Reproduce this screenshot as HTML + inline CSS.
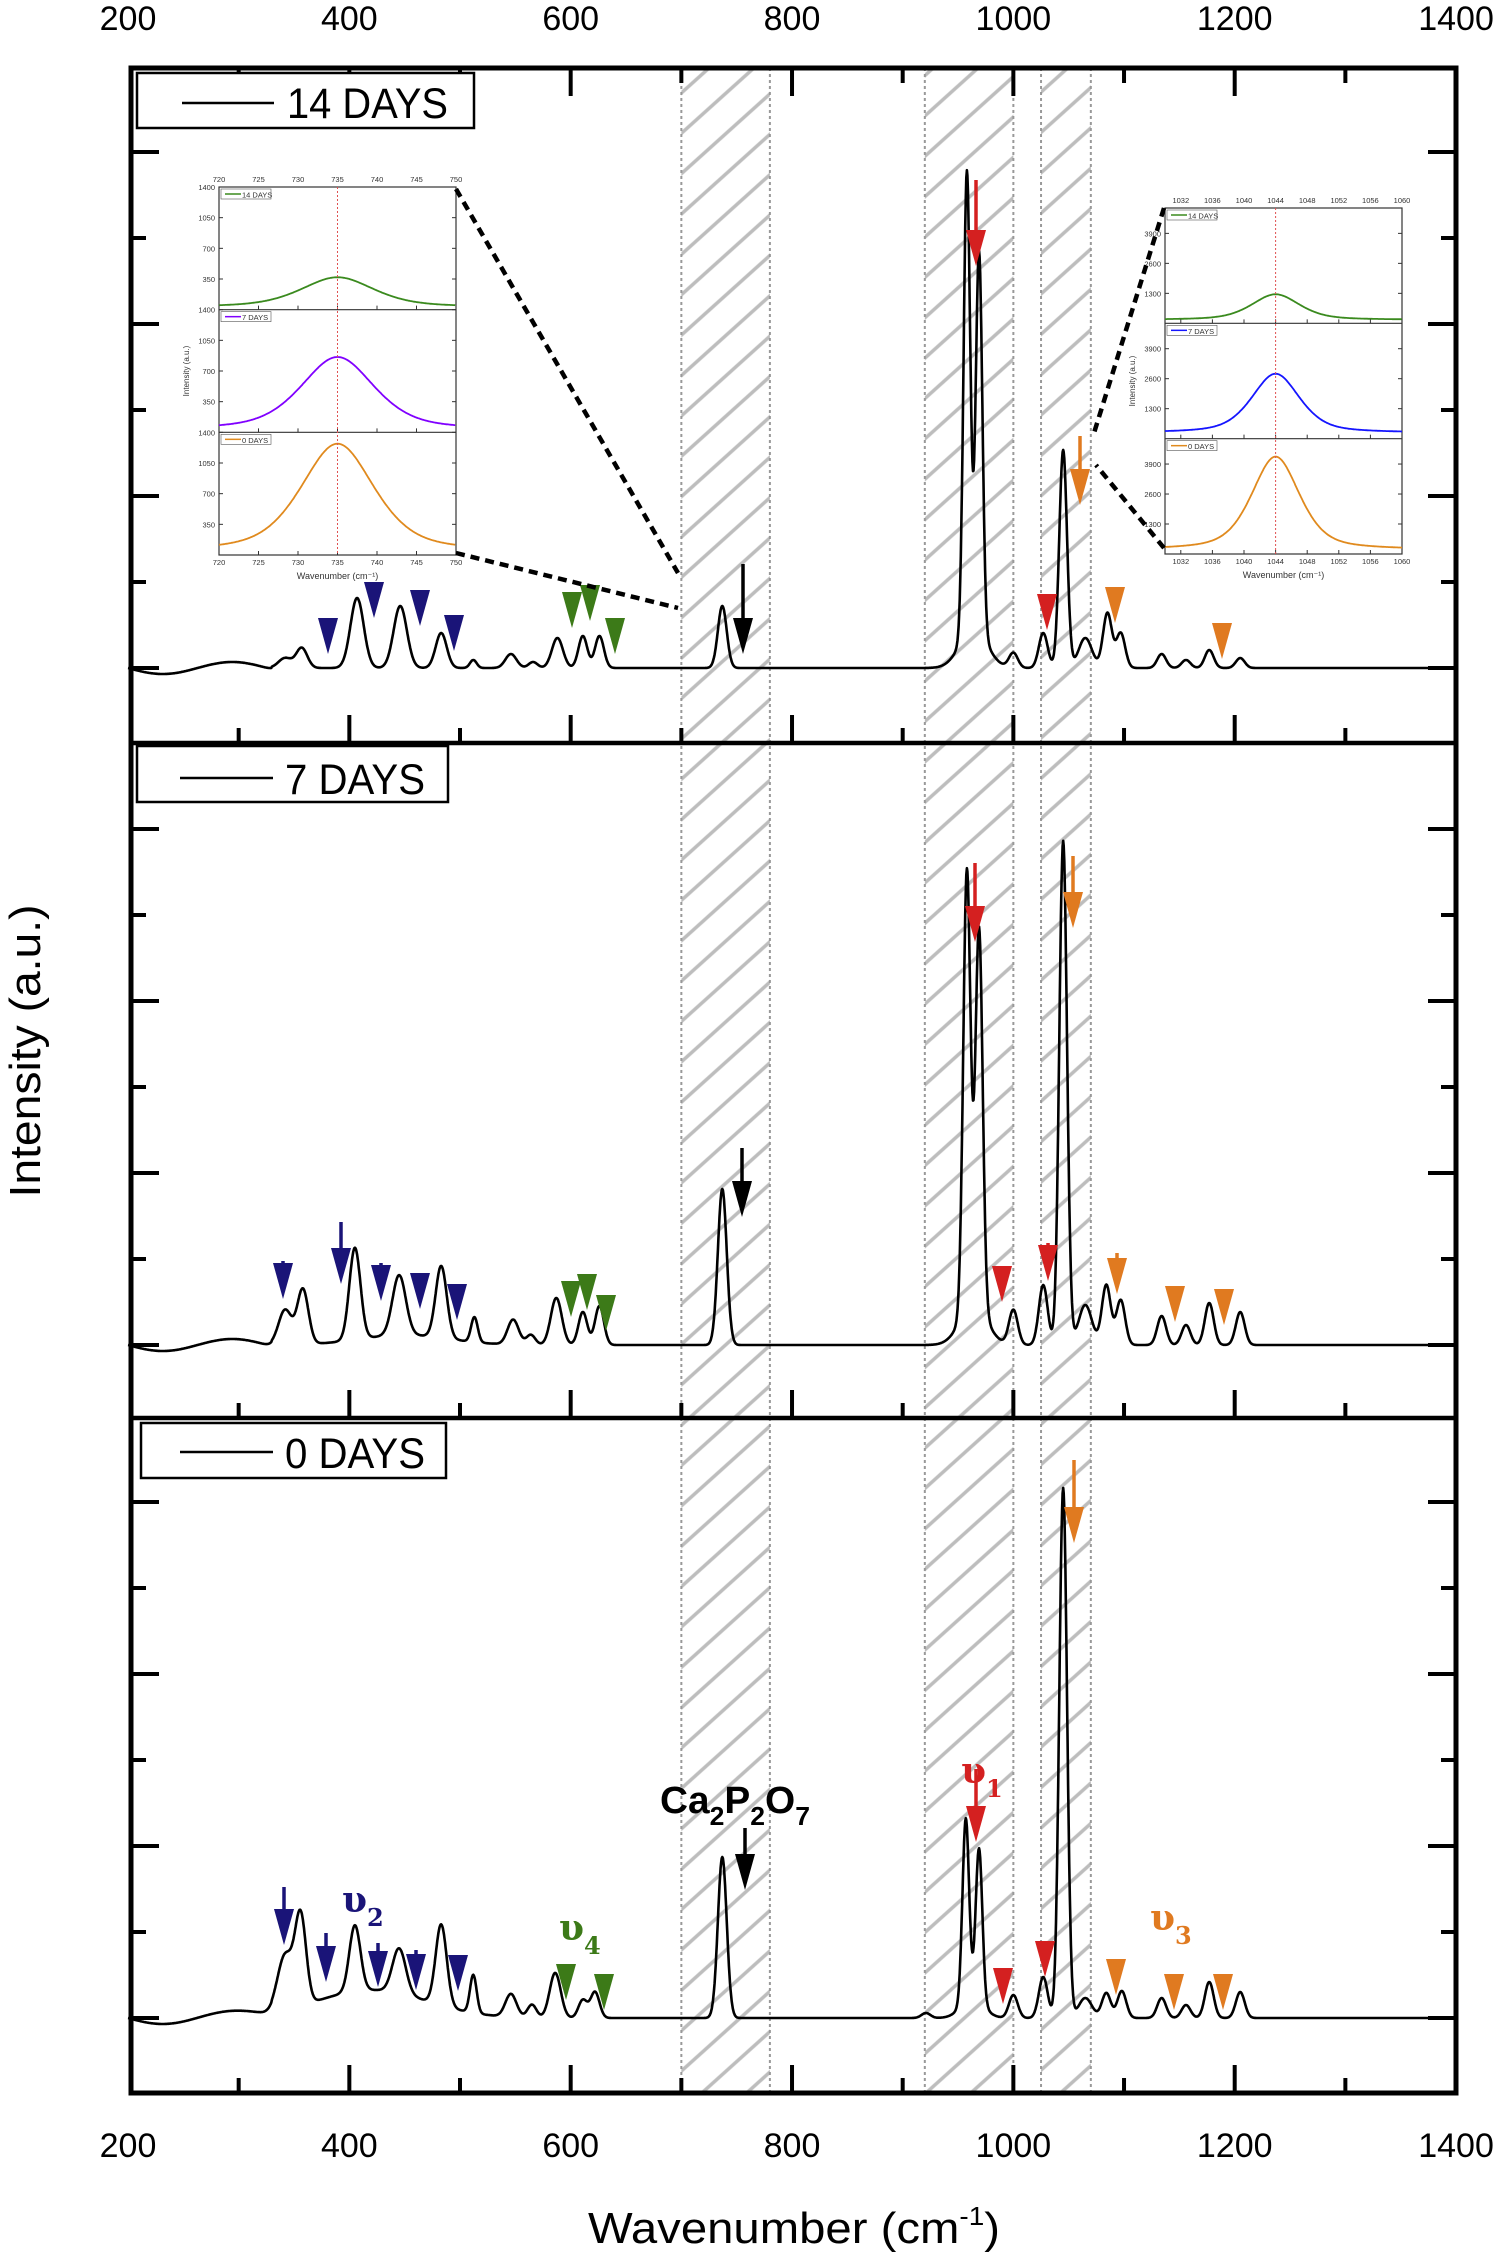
<!DOCTYPE html>
<html><head><meta charset="utf-8"><style>
html,body{margin:0;padding:0;background:#fff;}
svg{display:block;font-family:"Liberation Sans",sans-serif;}
</style></head><body>
<svg id="chart" xmlns="http://www.w3.org/2000/svg" width="1500" height="2254" viewBox="0 0 1500 2254">
<defs>
<pattern id="hatch" patternUnits="userSpaceOnUse" width="30" height="30" patternTransform="rotate(48)">
<line x1="15" y1="0" x2="15" y2="30" stroke="#bdbdbd" stroke-width="3.5"/>
</pattern>
</defs>
<g id="hatches"></g>
<g id="spectra"></g>
<g id="axes"></g>
<g id="arrows"></g>
<g id="insets"></g>
<g>
<rect x="137" y="73" width="337" height="55" fill="#fff" stroke="#000" stroke-width="2.5"/>
<line x1="182" y1="103" x2="274" y2="103" stroke="#000" stroke-width="2.5"/>
<text x="287" y="118" font-size="43" textLength="161" lengthAdjust="spacingAndGlyphs">14 DAYS</text>
</g>
<g>
<rect x="137" y="746" width="311" height="56" fill="#fff" stroke="#000" stroke-width="2.5"/>
<line x1="180" y1="778" x2="273" y2="778" stroke="#000" stroke-width="2.5"/>
<text x="285" y="794" font-size="43" textLength="140" lengthAdjust="spacingAndGlyphs">7 DAYS</text>
</g>
<g>
<rect x="141" y="1423" width="305" height="55" fill="#fff" stroke="#000" stroke-width="2.5"/>
<line x1="180" y1="1452" x2="273" y2="1452" stroke="#000" stroke-width="2.5"/>
<text x="285" y="1468" font-size="43" textLength="140" lengthAdjust="spacingAndGlyphs">0 DAYS</text>
</g>
<g font-weight="bold">
<text x="342" y="1912" font-size="36" fill="#1a1478" font-family="'DejaVu Serif',serif">υ<tspan font-size="24" dy="14">2</tspan></text>
<text x="559" y="1940" font-size="36" fill="#3c7a18" font-family="'DejaVu Serif',serif">υ<tspan font-size="24" dy="14">4</tspan></text>
<text x="961" y="1783" font-size="36" fill="#d42020" font-family="'DejaVu Serif',serif">υ<tspan font-size="24" dy="14">1</tspan></text>
<text x="1150" y="1930" font-size="36" fill="#e07a20" font-family="'DejaVu Serif',serif">υ<tspan font-size="24" dy="14">3</tspan></text>
<text x="660" y="1813" font-size="38" fill="#000" textLength="150" lengthAdjust="spacingAndGlyphs">Ca<tspan font-size="26" dy="12">2</tspan><tspan dy="-12">P</tspan><tspan font-size="26" dy="12">2</tspan><tspan dy="-12">O</tspan><tspan font-size="26" dy="12">7</tspan></text>
</g>
<text x="0" y="0" font-size="44" text-anchor="middle" transform="translate(40,1051) rotate(-90)" textLength="293" lengthAdjust="spacingAndGlyphs">Intensity (a.u.)</text>
<text x="588" y="2243" font-size="44" textLength="412" lengthAdjust="spacingAndGlyphs">Wavenumber (cm<tspan font-size="26" dy="-18">-1</tspan><tspan dy="18">)</tspan></text>
</svg>
<script>
// ---- data ----
const wnTicks = [200, 400, 600, 800, 1000, 1200, 1400];
const hatchStart = [700, 920, 1025];
const hatchEnd = [780, 1000, 1070];
// peak centers / heights (px above baseline) / widths (sigma, cm-1)
const p14c = [342,357,407,446,483,512,546,566,588,611,626,737,958,969,964,1000,1027,1045,1065,1085,1097,1134,1156,1177,1205];
const p14h = [10,20,70,62,35,8,14,6,30,32,32,62,462,380,40,15,35,218,30,55,35,14,8,18,10];
const p7c  = [342,358,405,445,483,513,548,564,587,611,626,737,958,969,964,1000,1027,1045,1065,1084,1097,1134,1156,1177,1205,450];
const p7h  = [35,55,92,60,72,25,25,10,47,33,39,156,440,380,40,35,60,504,40,60,45,29,20,42,33,10];
const p0c  = [342,356,405,445,483,512,546,565,586,611,622,737,921,957,969,963,1000,1027,1045,1065,1084,1098,1134,1156,1177,1205,420];
const p0h  = [55,88,66,45,81,38,23,13,45,18,26,161,5,183,153,20,23,41,530,20,25,27,20,13,36,26,28];
const p14s = [6,5,6,6,5,3,5,4,5,4,4,4,3,3,12,4,4,3.5,6,4,4,4,4,4,4];
const p7s  = [6,5,5,6,5,3,5,4,5,4,4,4,3.3,3.3,12,4,4,3.5,6,4,4,4,4,4,4,40];
const p0s  = [7,5,5,6,5,3,5,4,5,4,4,4,4,3,3,10,4,4,3.5,6,4,4,4,4,4,4,50];
// inset data
const inset1Amp = [340, 830, 1230];
const inset1Base = [30, 30, 40];
const inset2Amp = [1110, 2565, 4040];
const inset2Base = [150, 250, 180];

const NS="http://www.w3.org/2000/svg";
function mk(tag, attrs, parent){const e=document.createElementNS(NS,tag);for(const k in attrs)e.setAttribute(k,attrs[k]);parent.appendChild(e);return e;}
const X0=128, XS=1.1067;
function xs(w){return X0+(w-200)*XS;}
const panels=[{top:68,bot:743,base:668},{top:743,bot:1418,base:1345},{top:1418,bot:2093,base:2018}];
const series=[[p14c,p14h,p14s],[p7c,p7h,p7s],[p0c,p0h,p0s]];
const names=['spectrum-14-days','spectrum-7-days','spectrum-0-days'];

// hatches
const gh=document.getElementById('hatches');
for(let i=0;i<hatchStart.length;i++){
  const a=xs(hatchStart[i]), b=xs(hatchEnd[i]);
  const r=mk('rect',{x:a,y:68,width:b-a,height:2025,fill:'url(#hatch)'},gh);
  
  
  [a,b].forEach(xx=>{const l=mk('line',{x1:xx,y1:68,x2:xx,y2:2093,stroke:'#999','stroke-width':2,'stroke-dasharray':'3,3'},gh);
    
    });
}

// spectra
const gs=document.getElementById('spectra');
series.forEach((s,pi)=>{
  const [c,h,sg]=s; const base=panels[pi].base;
  let d='';
  for(let w=200; w<=1400; w+=0.5){
    let v=0;
    for(let k=0;k<c.length;k++){const z=(w-c[k])/sg[k]; if(Math.abs(z)<8) v+=h[k]*Math.exp(-0.5*z*z);}
    if(w<330) v-= 6*Math.sin((w-200)/20);
    d+=(d?'L':'M')+xs(w).toFixed(1)+','+(base-v).toFixed(1);
  }
  const p=mk('path',{d:d,fill:'none',stroke:'#000','stroke-width':2.6,'stroke-linejoin':'round'},gs);
  
  
});

// axes
const ga=document.getElementById('axes');
const fr=mk('rect',{x:131,y:68,width:1325,height:2025,fill:'none',stroke:'#000','stroke-width':5},ga);


[743,1418].forEach(yy=>{const l=mk('line',{x1:131,y1:yy,x2:1456,y2:yy,stroke:'#000','stroke-width':4.5},ga);
  
  });
for(let w=300;w<=1300;w+=100){
  const len=(w%200===0)?28:15, xx=xs(w);
  mk('line',{x1:xx,y1:68,x2:xx,y2:68+len,stroke:'#000','stroke-width':4},ga);
  [743,1418,2093].forEach(yy=>mk('line',{x1:xx,y1:yy,x2:xx,y2:yy-len,stroke:'#000','stroke-width':4},ga));
}
panels.forEach(p=>{
  for(let k=0;k<7;k++){
    const yy=p.base-86*k, len=(k%2===0)?28:15;
    mk('line',{x1:131,y1:yy,x2:131+len,y2:yy,stroke:'#000','stroke-width':4},ga);
    mk('line',{x1:1456,y1:yy,x2:1456-len,y2:yy,stroke:'#000','stroke-width':4},ga);
  }
});
wnTicks.forEach(w=>{
  const t1=mk('text',{x:xs(w),y:30,'font-size':34,'text-anchor':'middle'},ga); t1.textContent=w;
  
  
  const t2=mk('text',{x:xs(w),y:2157,'font-size':34,'text-anchor':'middle'},ga); t2.textContent=w;
  
  
});

// arrows: [x, tipY, stemTop(or 0), color]
const NV='#1a1478', GR='#3c7a18', RD='#d42020', OR='#e07a20', BK='#000';
const arrowList=[
 [328,654,618,NV],[374,618,0,NV],[420,626,0,NV],[454,651,640,NV],
 [572,628,0,GR],[590,621,0,GR],[615,654,0,GR],
 [743,654,564,BK],[976,266,180,RD],[1047,630,0,RD],
 [1080,505,436,OR],[1115,623,587,OR],[1222,659,0,OR],
 [283,1299,1261,NV],[341,1284,1222,NV],[381,1301,1263,NV],[420,1309,0,NV],[457,1320,1310,NV],
 [571,1317,0,GR],[587,1310,0,GR],[606,1331,0,GR],
 [742,1217,1148,BK],[975,942,863,RD],[1002,1302,0,RD],[1048,1281,1243,RD],
 [1073,928,856,OR],[1117,1294,1253,OR],[1175,1322,0,OR],[1224,1325,0,OR],
 [284,1945,1887,NV],[326,1982,1933,NV],[378,1987,1943,NV],[416,1990,1950,NV],[458,1991,1980,NV],
 [566,2000,0,GR],[604,2010,0,GR],
 [745,1890,1828,BK],[976,1842,1769,RD],[1003,2004,0,RD],[1045,1977,1965,RD],
 [1074,1543,1460,OR],[1116,1995,0,OR],[1174,2010,0,OR],[1223,2010,0,OR]
];
const gar=document.getElementById('arrows');
arrowList.forEach(a=>{
  const [x,tip,st,col]=a; const hh=36, hw=10;
  const g=mk('g',{},gar);
  
  
  if(st) mk('line',{x1:x,y1:st,x2:x,y2:tip-hh+2,stroke:col,'stroke-width':3.5},g);
  mk('polygon',{points:`${x-hw},${tip-hh} ${x+hw},${tip-hh} ${x},${tip}`,fill:col},g);
});

// insets
const gi=document.getElementById('insets');
function inset(x0,y0,x1,y1,wmin,wmax,center,ymax,amps,bases,hw,cols,xt,yt,name){
  const g=mk('g',{},gi);
  
  
  mk('rect',{x:x0,y:y0,width:x1-x0,height:y1-y0,fill:'#fff',stroke:'#333','stroke-width':1.2},g);
  const ph=(y1-y0)/3, sx=w=>x0+(w-wmin)/(wmax-wmin)*(x1-x0);
  const lbl=['14 DAYS','7 DAYS','0 DAYS'];
  for(let i=0;i<3;i++){
    const t=y0+i*ph, b=t+ph;
    if(i>0) mk('line',{x1:x0,y1:t,x2:x1,y2:t,stroke:'#333','stroke-width':1.2},g);
    let d='';
    for(let w=wmin;w<=wmax;w+=0.1){
      const z=(w-center)/hw; const v=bases[i]+amps[i]*(0.5/(1+z*z)+0.5*Math.exp(-0.693*z*z));
      d+=(d?'L':'M')+sx(w).toFixed(1)+','+(b-v/ymax*ph).toFixed(1);
    }
    const p=mk('path',{d:d,fill:'none',stroke:cols[i],'stroke-width':1.8},g);
    
    
    mk('rect',{x:x0+2,y:t+2,width:50,height:10,fill:'#fff',stroke:'#555','stroke-width':0.6},g);
    mk('line',{x1:x0+6,y1:t+7,x2:x0+22,y2:t+7,stroke:cols[i],'stroke-width':1.5},g);
    const tt=mk('text',{x:x0+23,y:t+10.5,'font-size':7.5,fill:'#333'},g); tt.textContent=lbl[i];
    yt.forEach(v=>{const yy=b-v/ymax*ph; mk('line',{x1:x0,y1:yy,x2:x0+4,y2:yy,stroke:'#333','stroke-width':1},g);
      mk('line',{x1:x1,y1:yy,x2:x1-4,y2:yy,stroke:'#333','stroke-width':1},g);
      const lt=mk('text',{x:x0-4,y:yy+3,'font-size':7.5,'text-anchor':'end',fill:'#333'},g); lt.textContent=v;});
    xt.forEach(w=>mk('line',{x1:sx(w),y1:b,x2:sx(w),y2:b-4,stroke:'#333','stroke-width':1},g));
  }
  xt.forEach(w=>{
    const a=mk('text',{x:sx(w),y:y0-5,'font-size':7.5,'text-anchor':'middle',fill:'#333'},g); a.textContent=w;
    const c=mk('text',{x:sx(w),y:y1+10,'font-size':7.5,'text-anchor':'middle',fill:'#333'},g); c.textContent=w;
  });
  mk('line',{x1:sx(center),y1:y0,x2:sx(center),y2:y1,stroke:'#e05050','stroke-width':1,'stroke-dasharray':'2,2'},g);
  const xl=mk('text',{x:(x0+x1)/2,y:y1+24,'font-size':9,'text-anchor':'middle',fill:'#333'},g); xl.textContent='Wavenumber (cm⁻¹)';
  const yl=mk('text',{x:0,y:0,'font-size':8,'text-anchor':'middle',fill:'#333',transform:`translate(${x0-30},${(y0+y1)/2}) rotate(-90)`},g); yl.textContent='Intensity (a.u.)';
}
inset(219,187,456,555,720,750,735,1400,inset1Amp,inset1Base,5.5,['#3a8a1e','#8000ff','#e08a1e'],[720,725,730,735,740,745,750],[350,700,1050,1400],'inset-ca2p2o7');
inset(1165,208,1402,554,1030,1060,1044,5000,inset2Amp,inset2Base,3.6,['#3a8a1e','#1515ff','#e08a1e'],[1032,1036,1040,1044,1048,1052,1056,1060],[1300,2600,3900],'inset-nu3');
const conn=[[456,189,678,573],[456,553,678,608],[1164,208,1094,433],[1164,548,1096,465]];
conn.forEach(c=>{const l=mk('line',{x1:c[0],y1:c[1],x2:c[2],y2:c[3],stroke:'#000','stroke-width':4.5,'stroke-dasharray':'9,6'},gi);
  
  });
</script>
</body></html>
